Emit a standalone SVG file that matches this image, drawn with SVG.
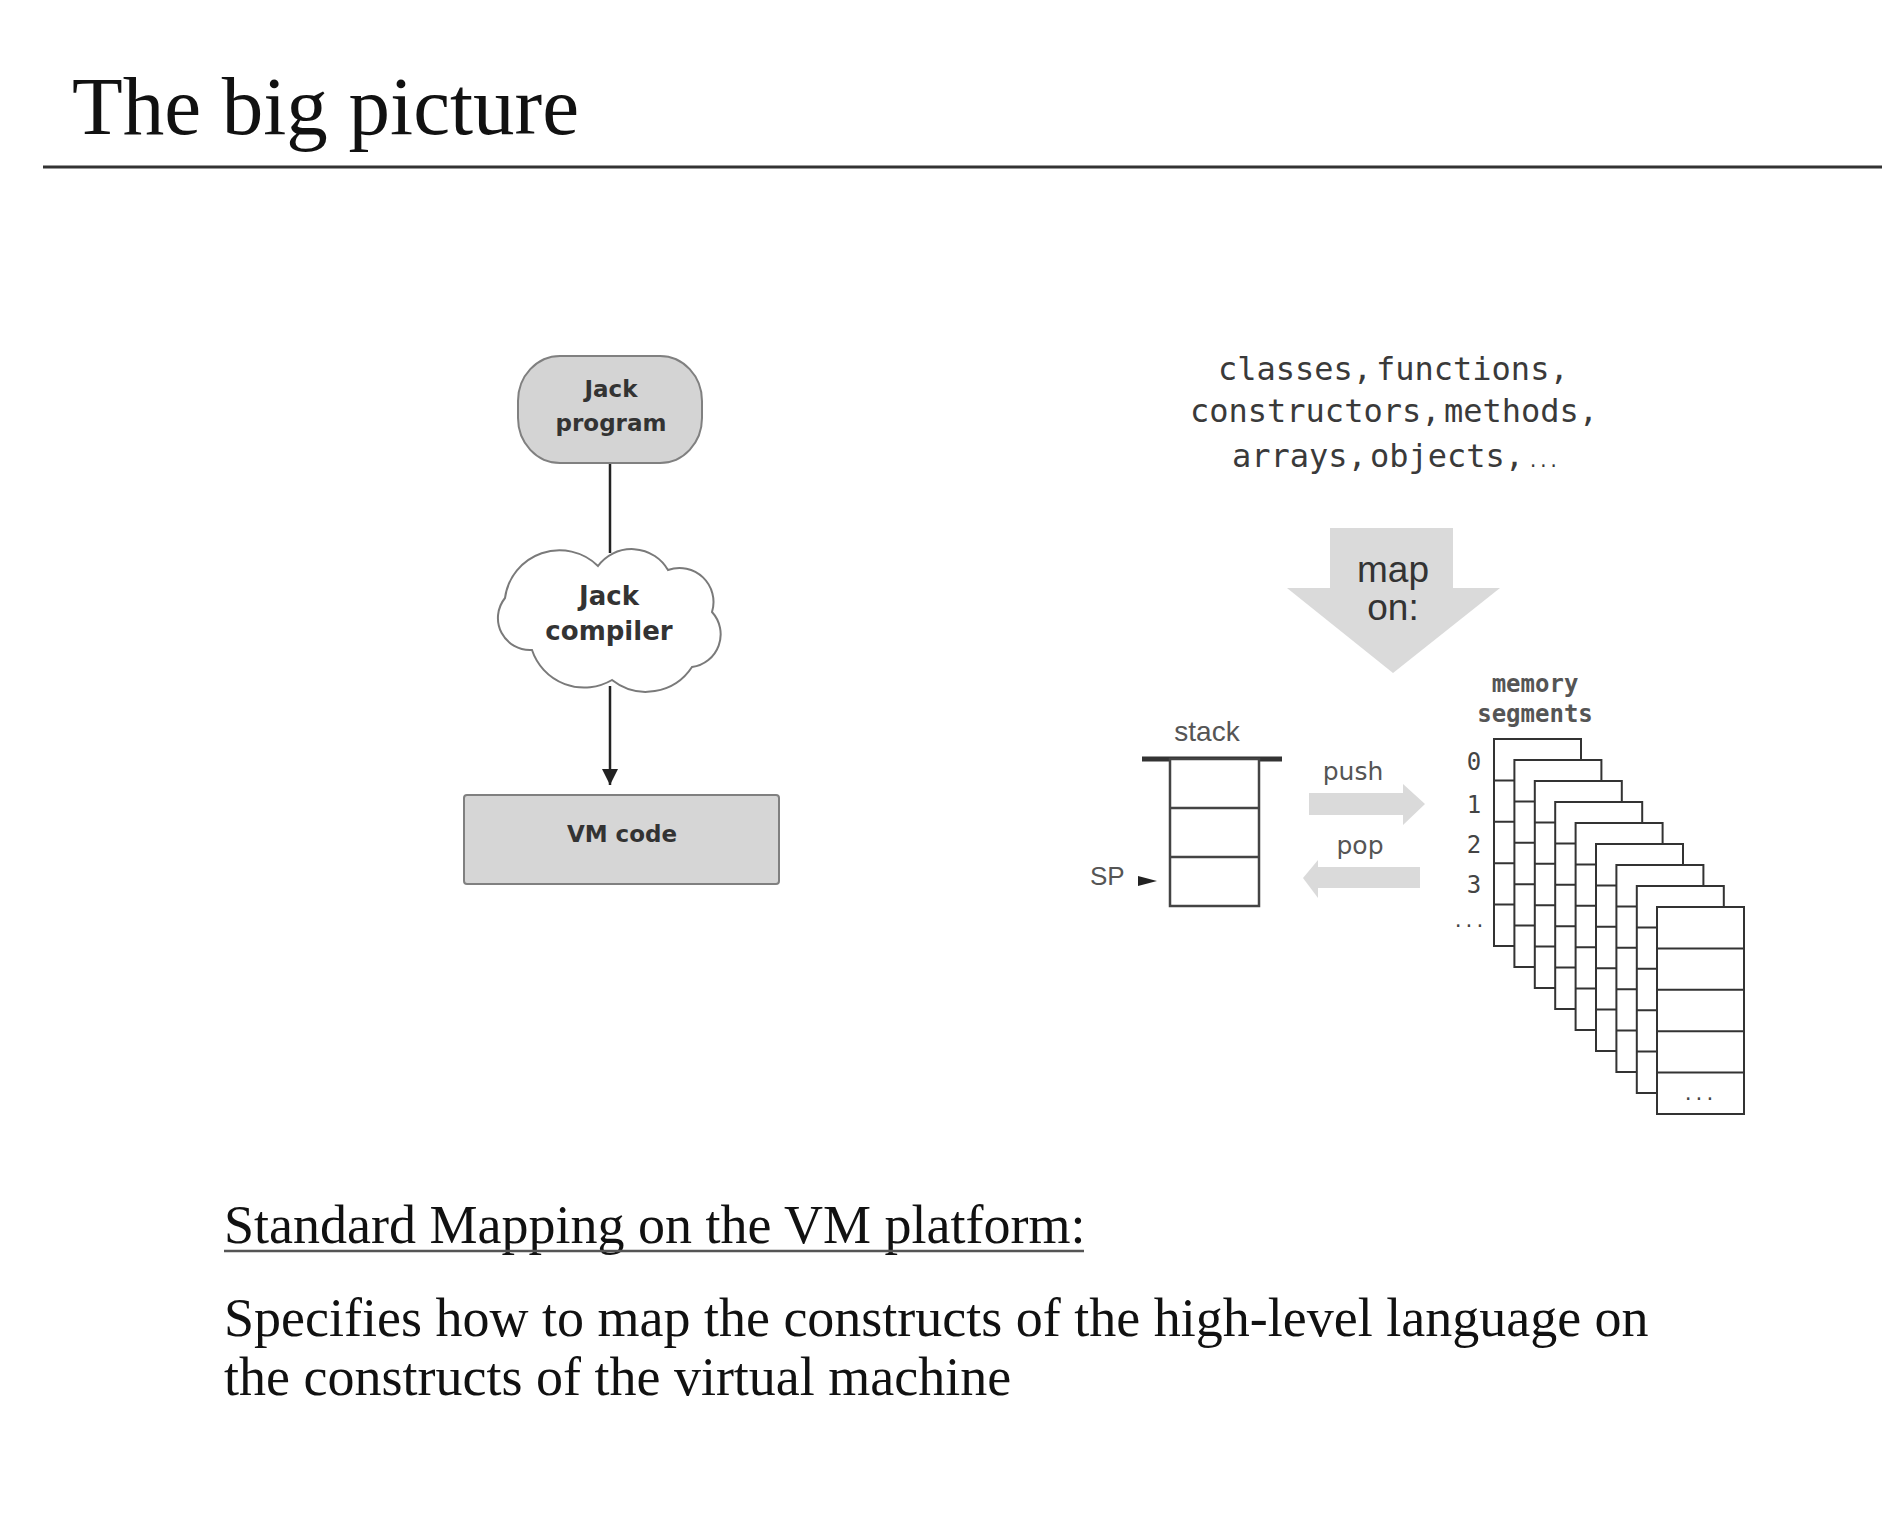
<svg xmlns="http://www.w3.org/2000/svg" width="1882" height="1540" viewBox="0 0 1882 1540">
<style>
.serif{font-family:"Liberation Serif","Times New Roman",serif;fill:#111}
.bold{font-family:"DejaVu Sans","Liberation Sans",sans-serif;font-weight:bold;fill:#333;text-anchor:middle}
.mono{font-family:"DejaVu Sans Mono","Liberation Mono",monospace;fill:#3a3a3a}
.sans{font-family:"Liberation Sans",Arial,sans-serif;fill:#444}
.dv{font-family:"DejaVu Sans","Liberation Sans",sans-serif;fill:#555;text-anchor:middle}
.cell{fill:#fff;stroke:#333;stroke-width:2}
.blk{fill:#dadada}
</style>
<defs>
<marker id="ah" markerUnits="userSpaceOnUse" markerWidth="16" markerHeight="22" refX="16" refY="8" orient="auto">
<path d="M0,0 L16,8 L0,16 Z" fill="#222"/>
</marker>
<g id="sheet">
<rect class="cell" x="0" y="0" width="87" height="207"/>
<path d="M0 41.4H87M0 82.8H87M0 124.2H87M0 165.6H87" stroke="#333" stroke-width="2" fill="none"/>
</g>
</defs>
<rect width="1882" height="1540" fill="#fff"/>

<g id="title">
<text class="serif" x="72" y="134" font-size="83">The big picture</text>
<line x1="43" y1="167" x2="1882" y2="167" stroke="#333" stroke-width="3"/>
</g>

<g id="connectors" fill="none" stroke="#222" stroke-width="2.5">
<line x1="610" y1="463" x2="610" y2="553"/>
<line x1="610" y1="686" x2="610" y2="785" marker-end="url(#ah)"/>
</g>

<g id="jack-program">
<rect x="518" y="356" width="184" height="107" rx="42" ry="45" fill="#d4d4d4" stroke="#808080" stroke-width="2"/>
<text class="bold" x="611" y="397" font-size="23">Jack</text>
<text class="bold" x="611" y="431" font-size="23">program</text>
</g>

<g id="jack-compiler">
<path d="M505 598 A55 55 0 0 1 598 566 A42 42 0 0 1 668 570 A34 34 0 0 1 712 612 A33 33 0 0 1 692 667 A55 55 0 0 1 612 680 A55 55 0 0 1 532 650 A32 32 0 0 1 505 598 Z" fill="#fff" stroke="#7a7a7a" stroke-width="2"/>
<text class="bold" x="609" y="605" font-size="26">Jack</text>
<text class="bold" x="609" y="640" font-size="26">compiler</text>
</g>

<g id="vm-code">
<rect x="464" y="795" width="315" height="89" rx="3" fill="#d6d6d6" stroke="#808080" stroke-width="2"/>
<text class="bold" x="622" y="842" font-size="23">VM code</text>
</g>

<g id="constructs" class="mono" font-size="32">
<text x="1218" y="380">classes,</text>
<text x="1376" y="380">functions,</text>
<text x="1190" y="422">constructors,</text>
<text x="1444" y="422">methods,</text>
<text x="1232" y="467">arrays,</text>
<text x="1370" y="467">objects,</text>
<text x="1528" y="467" font-size="17">...</text>
</g>

<g id="map-on">
<path class="blk" d="M1330 528 H1453 V588 H1500 L1393 673 L1287 588 H1330 Z"/>
<text class="sans" x="1393" y="582" font-size="37" text-anchor="middle" style="fill:#333">map</text>
<text class="sans" x="1393" y="620" font-size="37" text-anchor="middle" style="fill:#333">on:</text>
</g>

<g id="stack">
<text class="sans" x="1207" y="741" font-size="28" text-anchor="middle" style="fill:#555">stack</text>
<line x1="1142" y1="759" x2="1282" y2="759" stroke="#333" stroke-width="5"/>
<rect x="1170" y="759" width="89" height="147" fill="#fff" stroke="#444" stroke-width="2.5"/>
<path d="M1170 808H1259M1170 857H1259" stroke="#444" stroke-width="2.5"/>
<text class="sans" x="1090" y="885" font-size="26" style="fill:#555">SP</text>
<path d="M1138 876 L1157 881 L1138 886 Z" fill="#222"/>
</g>

<g id="push-pop">
<path class="blk" d="M1309 793 H1403 V784 L1425 804 L1403 825 V815 H1309 Z"/>
<text class="dv" x="1353" y="780" font-size="25">push</text>
<path class="blk" d="M1420 867 H1318 V860 L1303 878 L1318 898 V888 H1420 Z"/>
<text class="dv" x="1360" y="854" font-size="25">pop</text>
</g>

<g id="memory-segments">
<text class="mono" x="1535" y="692" font-size="24" font-weight="bold" text-anchor="middle" style="fill:#555">memory</text>
<text class="mono" x="1535" y="722" font-size="24" font-weight="bold" text-anchor="middle" style="fill:#555">segments</text>
<g class="mono" font-size="24" text-anchor="middle" style="fill:#444">
<text x="1474" y="770">0</text>
<text x="1474" y="813">1</text>
<text x="1474" y="853">2</text>
<text x="1474" y="893">3</text>
<text x="1469" y="927" font-size="18">...</text>
</g>
<use href="#sheet" x="1494" y="739"/>
<use href="#sheet" x="1514.4" y="760"/>
<use href="#sheet" x="1534.8" y="781"/>
<use href="#sheet" x="1555.2" y="802"/>
<use href="#sheet" x="1575.6" y="823"/>
<use href="#sheet" x="1596" y="844"/>
<use href="#sheet" x="1616.4" y="865"/>
<use href="#sheet" x="1636.8" y="886"/>
<use href="#sheet" x="1657" y="907"/>
<text class="mono" x="1699" y="1100" font-size="18" text-anchor="middle" style="fill:#444">...</text>
</g>

<g id="description">
<text class="serif" x="224" y="1243" font-size="54">Standard Mapping on the VM platform:</text>
<line x1="224" y1="1251" x2="1084" y2="1251" stroke="#555" stroke-width="2.5"/>
<text class="serif" x="224" y="1336" font-size="54">Specifies how to map the constructs of the high-level language on</text>
<text class="serif" x="224" y="1395" font-size="54">the constructs of the virtual machine</text>
</g>
</svg>
